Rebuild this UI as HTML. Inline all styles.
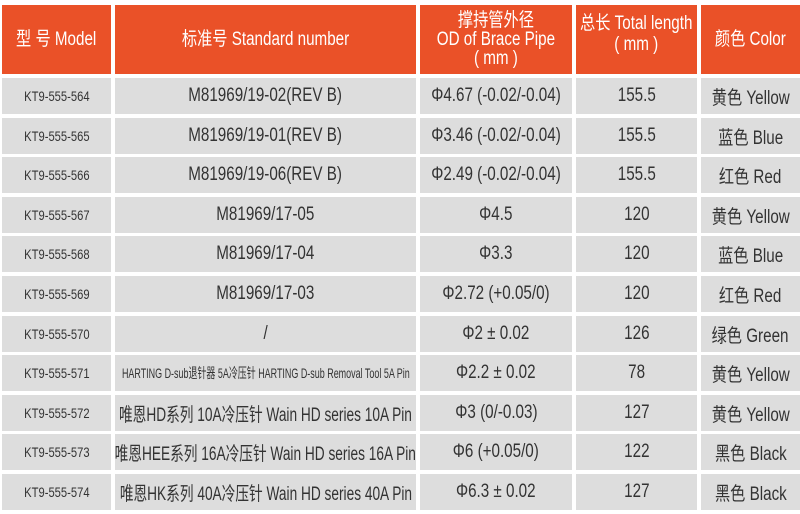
<!DOCTYPE html>
<html><head><meta charset="utf-8"><style>
body{margin:0;width:800px;height:514px;background:#fff;position:relative;overflow:hidden;font-family:"Liberation Sans","Noto Sans CJK SC",sans-serif;}
.c{position:absolute;display:flex;align-items:center;justify-content:center;text-align:center;background:#dddddd;color:#333;font-size:19px;white-space:nowrap;overflow:hidden;}
.c span{display:inline-block;transform:scaleX(0.8);}
.h{background:#ea5128;color:#fff;line-height:19px;font-size:19px;}
.s{font-size:14px;}
</style></head><body>
<div class="c h" style="left:2px;top:5px;width:109px;height:69px"><span>型 号 Model</span></div>
<div class="c h" style="left:115px;top:5px;width:301px;height:69px"><span>标准号 Standard number</span></div>
<div class="c h" style="left:420px;top:5px;width:152px;height:69px"><span>撑持管外径<br>OD of Brace Pipe<br>( mm )</span></div>
<div class="c h" style="left:576px;top:5px;width:121px;height:69px"><span style="line-height:21px;margin-top:-12px">总长 Total length<br>( mm )</span></div>
<div class="c h" style="left:701px;top:5px;width:99px;height:69px"><span>颜色 Color</span></div>
<div id="rows"></div>
<script>
var d=[
["KT9-555-564","M81969/19-02(REV B)","Φ4.67 (-0.02/-0.04)","155.5","黄色 Yellow"],
["KT9-555-565","M81969/19-01(REV B)","Φ3.46 (-0.02/-0.04)","155.5","蓝色 Blue"],
["KT9-555-566","M81969/19-06(REV B)","Φ2.49 (-0.02/-0.04)","155.5","红色 Red"],
["KT9-555-567","M81969/17-05","Φ4.5","120","黄色 Yellow"],
["KT9-555-568","M81969/17-04","Φ3.3","120","蓝色 Blue"],
["KT9-555-569","M81969/17-03","Φ2.72 (+0.05/0)","120","红色 Red"],
["KT9-555-570","/","Φ2 ± 0.02","126","绿色 Green"],
["KT9-555-571","HARTING D-sub退针器 5A冷压针 HARTING D-sub Removal Tool 5A Pin","Φ2.2 ± 0.02","78","黄色 Yellow"],
["KT9-555-572","唯恩HD系列 10A冷压针 Wain HD series 10A Pin","Φ3 (0/-0.03)","127","黄色 Yellow"],
["KT9-555-573","唯恩HEE系列 16A冷压针 Wain HD series 16A Pin","Φ6 (+0.05/0)","122","黑色 Black"],
["KT9-555-574","唯恩HK系列 40A冷压针  Wain HD series 40A Pin","Φ6.3 ± 0.02","127","黑色 Black"]];
var cols=[[2,109],[115,301],[420,152],[576,121],[701,99]];
var h="";
d.forEach(function(r,i){var t=Math.round(78+39.6*i);
r.forEach(function(v,j){var cls="c";var st="";var sc="";
if(j==0){cls+=" s";}
if(j==1&&i==7){st="font-size:14px;overflow:visible;";sc="transform:scaleX(0.64);margin:0 -200px";}
else if(j==1&&i>7){sc="transform:scaleX(0.72)";}
h+='<div class="'+cls+'" style="left:'+cols[j][0]+'px;top:'+t+'px;width:'+cols[j][1]+'px;height:36px;'+st+'"><span style="'+sc+'">'+v+'</span></div>';});});
document.getElementById("rows").innerHTML=h;
</script>
</body></html>
